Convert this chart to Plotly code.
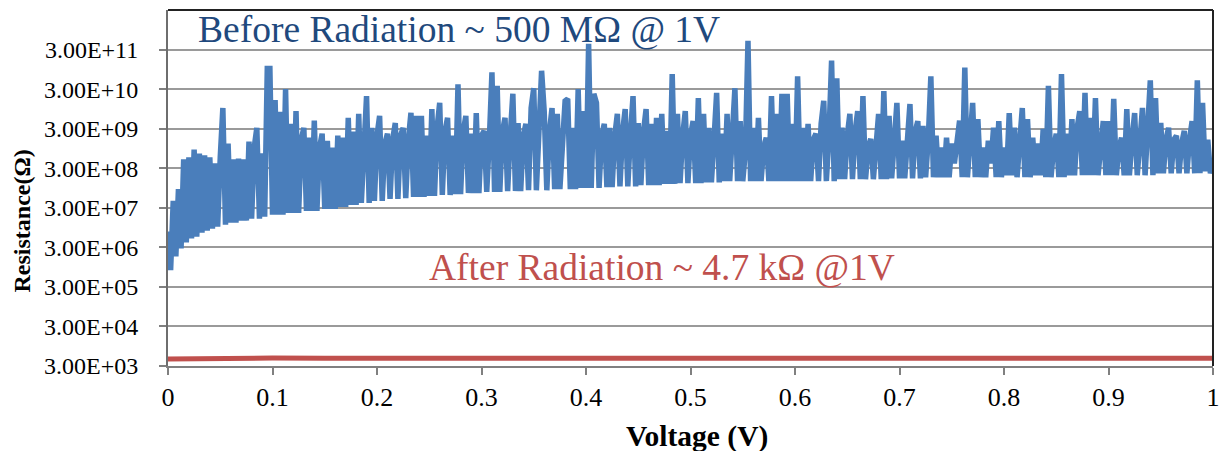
import plotly.graph_objects as go

# ---------------- data ----------------
# Voltage sweep for the "before" curve: 0 .. 1 V in 0.0025 V steps (401 samples)
voltage_before = [round(k * 0.0025, 4) for k in range(401)]

# log10 of resistance (ohm) before radiation, read point by point
log10_R_before = [
    6.88, 5.90, 7.65, 6.25, 7.95, 6.45, 8.70, 6.60, 8.75, 6.70,
    8.95, 6.75, 8.85, 6.85, 8.80, 6.90, 8.75, 6.95, 8.60, 7.00,
    8.75, 10.00, 7.05, 9.10, 7.10, 8.70, 7.10, 8.72, 7.15, 8.70,
    7.15, 9.15, 7.20, 9.00, 9.50, 7.20, 8.85, 7.25, 11.00, 11.00,
    7.30, 10.20, 7.30, 9.90, 7.30, 10.48, 7.35, 9.60, 7.35, 9.92,
    7.35, 9.20, 9.50, 7.40, 9.25, 7.40, 9.68, 7.40, 9.00, 9.35,
    7.45, 9.17, 7.45, 9.00, 7.45, 9.30, 7.50, 9.25, 7.50, 9.75,
    7.55, 9.40, 7.55, 9.85, 7.60, 9.20, 10.30, 7.60, 9.50, 7.65,
    9.30, 9.80, 7.65, 9.10, 9.35, 7.70, 9.20, 9.62, 7.70, 9.30,
    9.50, 7.72, 9.20, 9.88, 7.75, 9.80, 7.75, 9.80, 7.75, 9.30,
    7.78, 9.97, 7.78, 9.50, 10.13, 7.80, 9.40, 9.75, 7.80, 9.30,
    7.82, 10.60, 7.82, 9.40, 9.80, 7.85, 9.35, 7.85, 9.87, 7.85,
    9.30, 9.42, 7.88, 9.20, 10.90, 7.88, 10.56, 7.88, 9.40, 9.75,
    7.90, 9.30, 10.36, 7.90, 9.62, 7.90, 9.30, 9.60, 7.92, 10.00,
    10.50, 7.92, 9.30, 10.94, 9.92, 7.92, 9.40, 10.00, 7.95, 9.85,
    7.95, 9.40, 10.18, 10.23, 7.95, 9.50, 7.95, 10.48, 7.98, 9.92,
    7.98, 11.62, 7.98, 10.36, 10.13, 7.98, 9.30, 9.60, 8.00, 9.50,
    8.00, 9.30, 9.85, 8.02, 9.40, 9.97, 8.02, 9.30, 10.30, 8.02,
    9.62, 8.05, 9.40, 9.97, 8.05, 9.60, 8.05, 9.75, 8.05, 9.85,
    8.08, 9.42, 8.08, 10.86, 8.08, 9.85, 8.10, 9.30, 9.92, 8.10,
    9.30, 9.67, 8.10, 10.25, 8.10, 9.85, 8.12, 9.50, 8.12, 9.20,
    10.38, 8.12, 9.35, 8.15, 9.85, 8.15, 9.20, 10.50, 8.15, 9.67,
    8.15, 8.90, 11.70, 8.15, 9.50, 8.15, 9.75, 8.15, 9.00, 9.25,
    8.15, 10.30, 8.15, 9.85, 8.15, 10.36, 8.15, 10.36, 8.15, 9.60,
    8.15, 10.80, 8.15, 9.50, 8.15, 9.60, 8.15, 9.20, 9.35, 8.15,
    9.60, 10.18, 8.15, 9.30, 11.20, 8.15, 10.75, 8.20, 9.50, 8.20,
    9.30, 9.85, 8.20, 9.40, 9.92, 8.20, 10.30, 8.20, 9.00, 9.22,
    8.20, 9.20, 9.85, 8.20, 10.43, 8.20, 9.80, 8.22, 9.40, 10.13,
    8.22, 9.17, 8.22, 9.30, 10.10, 8.22, 9.40, 9.67, 8.22, 9.55,
    8.25, 9.20, 10.80, 8.25, 9.30, 8.25, 9.00, 8.25, 9.25, 8.25,
    9.10, 8.60, 9.20, 9.68, 8.25, 11.02, 8.25, 9.40, 10.13, 8.25,
    9.72, 8.25, 9.00, 8.25, 9.17, 8.60, 9.50, 8.25, 9.67, 8.25,
    9.00, 8.30, 9.87, 8.30, 9.50, 8.25, 9.20, 10.00, 8.25, 9.72,
    8.25, 9.25, 8.30, 9.10, 8.30, 9.47, 8.25, 10.56, 8.25, 9.00,
    9.35, 8.25, 10.86, 8.25, 9.35, 8.30, 9.72, 8.30, 9.50, 9.92,
    8.30, 10.38, 8.30, 9.75, 8.30, 10.25, 8.30, 9.20, 9.67, 8.30,
    9.67, 8.30, 10.23, 8.30, 9.00, 9.25, 8.30, 9.97, 8.30, 9.20,
    9.87, 8.30, 9.30, 10.00, 8.30, 9.30, 10.70, 8.30, 10.25, 8.35,
    9.62, 8.35, 9.20, 9.50, 8.35, 9.20, 9.30, 8.35, 9.10, 9.42,
    8.35, 9.20, 9.67, 8.35, 10.70, 8.35, 10.13, 8.40, 9.20, 8.35,
    8.60,
]
R_before = [10 ** v for v in log10_R_before]

# After radiation: nearly flat at ~4.7 kOhm
voltage_after = [0.0, 0.05, 0.1, 0.15, 0.2, 0.25, 0.3, 0.35, 0.4, 0.45, 0.5,
                 0.55, 0.6, 0.65, 0.7, 0.75, 0.8, 0.85, 0.9, 0.95, 1.0]
R_after = [4500, 4700, 4750, 4700, 4720, 4700, 4750, 4700, 4720, 4700, 4700,
           4720, 4700, 4700, 4720, 4700, 4750, 4700, 4720, 4700, 4700]

y_tick_values = [3e3, 3e4, 3e5, 3e6, 3e7, 3e8, 3e9, 3e10, 3e11]
y_tick_labels = ["3.00E+03", "3.00E+04", "3.00E+05", "3.00E+06", "3.00E+07",
                 "3.00E+08", "3.00E+09", "3.00E+10", "3.00E+11"]
x_tick_values = [0, 0.1, 0.2, 0.3, 0.4, 0.5, 0.6, 0.7, 0.8, 0.9, 1.0]
x_tick_labels = ["0", "0.1", "0.2", "0.3", "0.4", "0.5", "0.6", "0.7", "0.8", "0.9", "1"]

# ---------------- figure ----------------
BLUE = "#4A7EBB"
RED = "#C0504D"
SERIF = "Liberation Serif"
GRID = "#9A9A9A"

fig = go.Figure()
fig.add_trace(go.Scatter(x=voltage_before, y=R_before, mode="lines",
                         line=dict(color=BLUE, width=5.5), name="Before Radiation"))
fig.add_trace(go.Scatter(x=voltage_after, y=R_after, mode="lines",
                         line=dict(color=RED, width=5), name="After Radiation"))

y_lo, y_hi = 3.4771, 12.4771

fig.update_layout(
    width=1221, height=451,
    margin=dict(l=168, r=8, t=10, b=85),
    paper_bgcolor="white", plot_bgcolor="white",
    showlegend=False,
    font=dict(family=SERIF, color="black"),
    xaxis=dict(
        range=[0, 1], tickvals=x_tick_values, ticktext=x_tick_labels,
        showgrid=False, zeroline=False, automargin=False,
        showline=True, linecolor="#808080", linewidth=2,
        ticks="outside", ticklen=7, tickwidth=2, tickcolor="#808080",
        tickfont=dict(family=SERIF, size=26, color="black"),
    ),
    yaxis=dict(
        type="log", range=[y_lo, y_hi], automargin=False,
        tickvals=y_tick_values, ticktext=y_tick_labels,
        showgrid=True, gridcolor=GRID, gridwidth=2, zeroline=False,
        showline=True, linecolor="#6E6E6E", linewidth=2,
        ticks="outside", ticklen=7, tickwidth=2, tickcolor="#808080",
        ticklabelstandoff=16,
        tickfont=dict(family=SERIF, size=24, color="black"),
    ),
    annotations=[
        dict(text="Before Radiation ~ 500 MΩ @ 1V", xref="paper", yref="paper",
             x=0.2785, y=0.944, showarrow=False, xanchor="center", yanchor="middle",
             font=dict(family=SERIF, size=37.5, color="#1F497D")),
        dict(text="After Radiation ~ 4.7 kΩ @1V", xref="paper", yref="paper",
             x=0.473, y=0.278, showarrow=False, xanchor="center", yanchor="middle",
             font=dict(family=SERIF, size=37.5, color=RED)),
        dict(text="<b>Voltage (V)</b>", xref="paper", yref="paper",
             x=0.506, y=-0.1994, showarrow=False, xanchor="center", yanchor="middle",
             font=dict(family=SERIF, size=29.5, color="black")),
        dict(text="<b>Resistance(Ω)</b>", xref="paper", yref="paper",
             x=-0.1397, y=0.406, showarrow=False, xanchor="center", yanchor="middle",
             textangle=-90, font=dict(family=SERIF, size=24, color="black")),
    ],
    shapes=[
        dict(type="line", xref="paper", yref="paper", x0=0, x1=1, y0=1, y1=1,
             line=dict(color="#222222", width=2)),
        dict(type="line", xref="paper", yref="paper", x0=1, x1=1, y0=0, y1=1,
             line=dict(color="#222222", width=2)),
    ],
)

fig.write_html("out.html")
